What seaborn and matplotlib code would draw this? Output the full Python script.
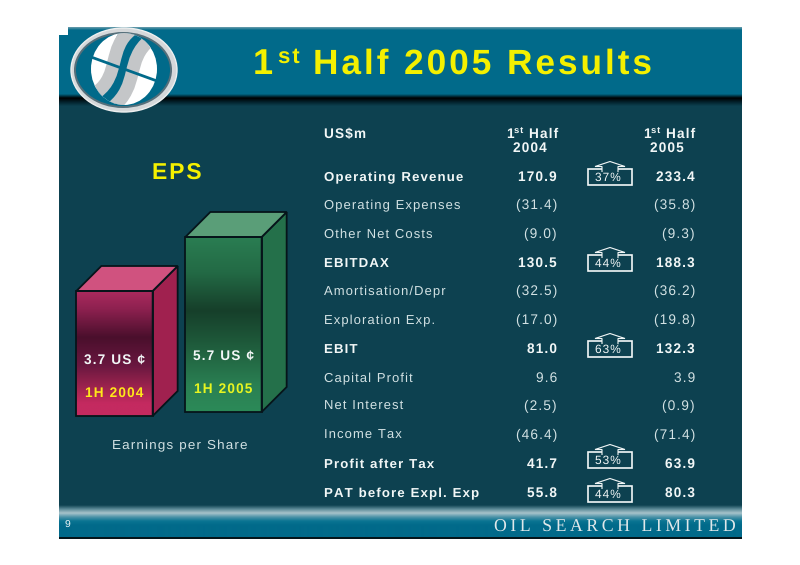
import numpy as np
import pandas as pd
import matplotlib
matplotlib.use("Agg")
import matplotlib.pyplot as plt
import seaborn as sns
from matplotlib.colors import LinearSegmentedColormap
from matplotlib.patches import Ellipse, PathPatch, Polygon, Rectangle
from matplotlib.path import Path

# EPS bars
periods = ["1H 2004", "1H 2005"]
eps = [3.7, 5.7]

# results table
row_names = ["Operating Revenue", "Operating Expenses", "Other Net Costs", "EBITDAX",
             "Amortisation/Depr", "Exploration Exp.", "EBIT", "Capital Profit",
             "Net Interest", "Income Tax", "Profit after Tax", "PAT before Expl. Exp"]
half_2004 = ["170.9", "(31.4)", "(9.0)", "130.5", "(32.5)", "(17.0)",
             "81.0", "9.6", "(2.5)", "(46.4)", "41.7", "55.8"]
half_2005 = ["233.4", "(35.8)", "(9.3)", "188.3", "(36.2)", "(19.8)",
             "132.3", "3.9", "(0.9)", "(71.4)", "63.9", "80.3"]
growth = ["37%", "", "", "44%", "", "", "63%", "", "", "", "53%", "44%"]
bold_rows = ["Operating Revenue", "EBITDAX", "EBIT", "Profit after Tax", "PAT before Expl. Exp"]

sns.set_theme(style="white")
plt.rcParams['font.family'] = ['Liberation Sans', 'DejaVu Sans']
plt.rcParams['text.hinting'] = 'no_hinting'

PANEL = '#0d4150'
TEAL = '#016a8a'
YELLOW = '#f4f000'
LIGHT = '#d3e2e4'
WHITE = '#f2f7f7'


def spaced(s, gap="\u200a"):
    # the slide uses tracked-out lettering
    return gap.join(s)


fig = plt.figure(figsize=(8, 5.65), dpi=100, facecolor='white')

# pixel space background
bg = fig.add_axes([0, 0, 1, 1], zorder=0)
bg.set_xlim(0, 800)
bg.set_ylim(565, 0)
bg.axis('off')


def vgrad(ax, x0, x1, y0, y1, colors, zorder=1):
    cmap = LinearSegmentedColormap.from_list('g', colors)
    ax.imshow(np.linspace(0, 1, 256).reshape(-1, 1), cmap=cmap, aspect='auto',
              extent=(x0, x1, y1, y0), zorder=zorder, interpolation='bilinear')


bg.add_patch(Rectangle((59, 35), 683, 503, fc=PANEL, ec='none', zorder=1))
bg.add_patch(Rectangle((68, 27), 674, 10, fc=TEAL, ec='none', zorder=1))
bg.add_patch(Rectangle((59, 35), 683, 60, fc=TEAL, ec='none', zorder=1))
vgrad(bg, 68, 742, 27, 30, ['#6f9fae', TEAL], zorder=2)
vgrad(bg, 59, 742, 94, 106, [TEAL, '#000000', '#03222c', PANEL], zorder=2)
vgrad(bg, 59, 742, 505, 537,
      [PANEL, '#5b8a97', '#a8c4cb', '#4d93a8', '#0a7593', TEAL, TEAL, TEAL, TEAL], zorder=2)
bg.add_patch(Rectangle((59, 537), 683, 1.5, fc='#04151b', ec='none', zorder=3))
bg.set_xlim(0, 800)
bg.set_ylim(565, 0)

# logo
bg.add_patch(Ellipse((124, 70), 106, 84, fc='#d5d8da', ec='#eef0f0', lw=1, zorder=4))
bg.add_patch(Ellipse((123, 70), 98, 76, fc='#566f7a', ec='none', zorder=4))
bg.add_patch(Ellipse((123, 70), 94, 72, fc=TEAL, ec='none', zorder=4))
white_part = Ellipse((124, 69), 66, 72, fc='white', ec='none', zorder=5)
bg.add_patch(white_part)
for xs, ys, col, lw in [
    ((142, 118, 130, 103), (28, 50, 80, 104), TEAL, 31),
    ((131, 108, 120, 97), (30, 48, 75, 92), '#c4c6c8', 13),
    ((150, 125, 140, 112), (40, 60, 85, 108), '#c4c6c8', 13),
]:
    p = PathPatch(Path(list(zip(xs, ys)), [Path.MOVETO, Path.CURVE4, Path.CURVE4, Path.CURVE4]),
                  fc='none', ec=col, lw=lw * 0.72, zorder=6)
    bg.add_patch(p)
    p.set_clip_path(white_part)
bg.plot([91, 157], [57, 81], color=TEAL, lw=2, zorder=7, solid_capstyle='butt')

# title
title_kw = dict(color=YELLOW, weight='bold', va='center', zorder=8)
bg.text(253, 65, "1", fontsize=26, ha='left', **title_kw)
bg.text(278, 57, spaced("st"), fontsize=16, ha='left', **title_kw)
bg.text(652, 65, spaced("Half 2005 Results"), fontsize=25.4, ha='right', **title_kw)

# footer
bg.text(65, 525, "9", color=WHITE, fontsize=7.5, ha='left', va='center', zorder=8)
bg.text(736, 527, spaced("OIL SEARCH LIMITED", "\u2009"), color='#dfe8ea', fontsize=12.8,
        family=['Liberation Serif', 'DejaVu Serif'], ha='right', va='center', zorder=8)

# EPS heading and caption
bg.text(177, 173, spaced("EPS"), color=YELLOW, weight='bold', fontsize=16.5, ha='center', va='center')
bg.text(180, 446, spaced("Earnings per Share"), color=LIGHT, fontsize=9.7, ha='center', va='center')

# table header
head = dict(color=WHITE, weight='bold', fontsize=9.8, va='center')
bg.text(324, 134, spaced("US$m"), ha='left', **head)
for right, year in [(558, "2004"), (695, "2005")]:
    bg.text(right, 134, spaced("Half"), ha='right', **head)
    bg.text(right - 52, 134, "1", ha='left', **head)
    bg.text(right - 44, 131, spaced("st"), ha='left', color=WHITE, weight='bold', fontsize=6.8, va='center')
    bg.text(right - 28, 148, spaced(year), ha='center', **head)

# table rows
table = pd.DataFrame({'name': row_names, 'h04': half_2004, 'h05': half_2005, 'growth': growth})
row_y = [176, 204, 233, 262, 290, 319, 348, 377, 405, 434, 463, 492]
for y, row in zip(row_y, table.itertuples()):
    is_bold = row.name in bold_rows
    kw = dict(color=WHITE if is_bold else LIGHT, weight='bold' if is_bold else 'normal',
              fontsize=9.8, va='baseline')
    name_kw = dict(kw, fontsize=9.5 if is_bold else 9.4)
    bg.text(324, y + 5, spaced(row.name), ha='left', **name_kw)
    bg.text(557, y + 5, spaced(row.h04), ha='right', **kw)
    bg.text(695, y + 5, spaced(row.h05), ha='right', **kw)
    if row.growth:
        top = y - 7
        if row.name == "Profit after Tax":
            top = y - 11
        elif row.name == "PAT before Expl. Exp":
            top = y - 6
        # open topped box with the arrow rising out of it
        box = [(602, top), (588, top), (588, top + 16), (632, top + 16), (632, top), (618, top)]
        arrow = [(602, top + 3), (602, top - 2.5), (595, top - 2.5), (610, top - 7.5),
                 (625, top - 2.5), (618, top - 2.5), (618, top + 3)]
        bg.add_patch(Polygon(box, closed=False, fc='none', ec=WHITE, lw=1.2, zorder=5))
        bg.add_patch(Polygon(arrow, closed=False, fc='none', ec=WHITE, lw=0.8, zorder=5))
        bg.text(608, top + 9, spaced(row.growth), color=WHITE, fontsize=8.6,
                ha='center', va='center', zorder=6)

# EPS bars, front faces from seaborn, axis floors set so the slide's proportions hold
bar_ax = fig.add_axes([60 / 800, 1 - 430 / 565, 218 / 800, 230 / 565], zorder=2)
bar_ax.patch.set_alpha(0)
eps_df = pd.DataFrame({'period': periods, 'eps': eps})
sns.barplot(data=eps_df, x='period', y='eps', hue='period', palette=['#c42a60', '#2c8a58'],
            width=0.7, legend=False, ax=bar_ax, saturation=1, linewidth=0)
px_per_unit = 27
y_top = 3.7 + (291 - 200) / px_per_unit
y_bottom = 3.7 - (430 - 291) / px_per_unit
bar_ax.set_xlim(-0.5, 1.5)
bar_ax.set_ylim(y_bottom, y_top)
bar_ax.axis('off')

floors = [3.7 - 125 / px_per_unit, 5.7 - 175 / px_per_unit]
dx = 25 / 109
dy = 25 / px_per_unit
styles = [
    ([(0, '#ab2a5e'), (0.14, '#8e2150'), (0.37, '#4a0f2c'), (0.6, '#6a1840'), (0.78, '#a0244f'), (0.9, '#c42a60'), (1, '#c42a60')],
     '#a0214f', '#d0527f'),
    ([(0, '#2a7d52'), (0.2, '#236a45'), (0.42, '#163f2a'), (0.62, '#1f5c3c'), (0.85, '#2a8053'), (1, '#2c8a58')],
     '#24704a', '#5a9e78'),
]
edge = '#06141a'
label_y = [(3.7 - 70 / px_per_unit, 3.7 - 102 / px_per_unit),
           (5.7 - 120 / px_per_unit, 5.7 - 152 / px_per_unit)]
label_col = ['#ffe81a', '#e8f520']
for bar, value, name, floor, (grad, side, cap), ly, lc in zip(
        bar_ax.patches, eps, periods, floors, styles, label_y, label_col):
    bar.set_y(floor)
    bar.set_height(value - floor)
    x0, x1 = bar.get_x(), bar.get_x() + bar.get_width()
    cmap = LinearSegmentedColormap.from_list('face', grad)
    bar_ax.imshow(np.linspace(0, 1, 256).reshape(-1, 1), cmap=cmap, aspect='auto',
                  extent=(x0, x1, floor, value), zorder=3)
    bar_ax.add_patch(Rectangle((x0, floor), x1 - x0, value - floor, fc='none', ec=edge, lw=1.3, zorder=4))
    bar_ax.add_patch(Polygon([(x1, floor), (x1 + dx, floor + dy), (x1 + dx, value + dy), (x1, value)],
                             fc=side, ec=edge, lw=1.3, zorder=3, clip_on=False))
    bar_ax.add_patch(Polygon([(x0, value), (x0 + dx, value + dy), (x1 + dx, value + dy), (x1, value)],
                             fc=cap, ec=edge, lw=1.3, zorder=3, clip_on=False))
    bar_ax.text((x0 + x1) / 2, ly[0], spaced(f"{value} US ¢"), color=WHITE, weight='bold',
                fontsize=9.8, ha='center', va='center', zorder=5)
    bar_ax.text((x0 + x1) / 2, ly[1], spaced(name), color=lc, weight='bold',
                fontsize=9.8, ha='center', va='center', zorder=5)
bar_ax.set_xlim(-0.5, 1.5)
bar_ax.set_ylim(y_bottom, y_top)

fig.savefig("out.png", dpi=100, facecolor='white')
